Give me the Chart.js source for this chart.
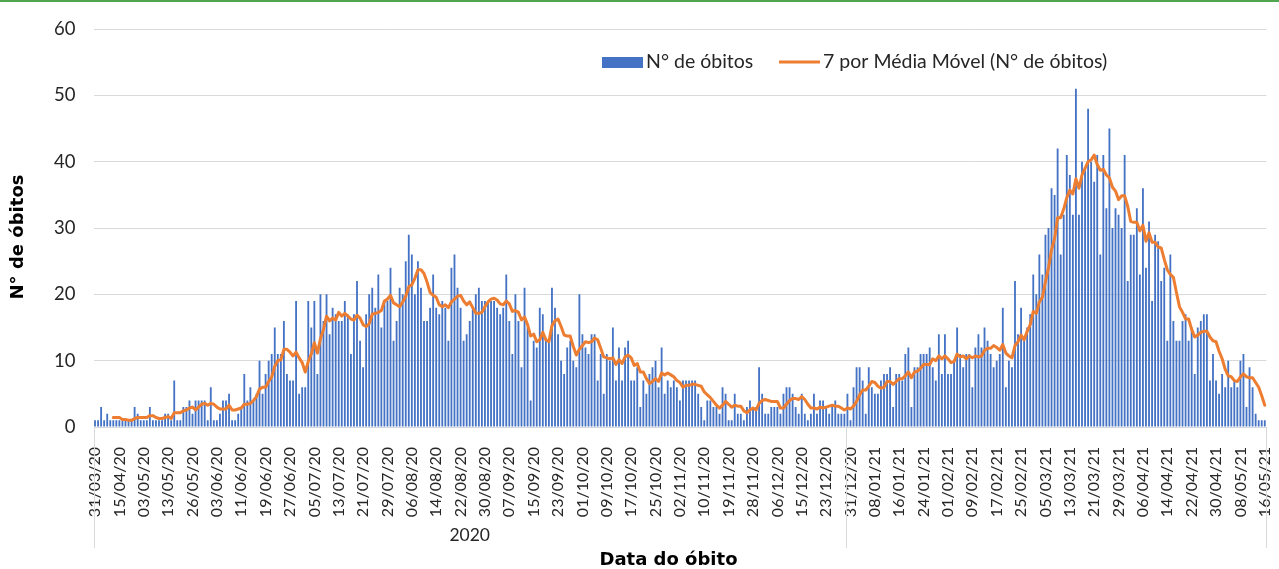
<!DOCTYPE html>
<html>
<head>
<meta charset="utf-8">
<script src="https://cdn.jsdelivr.net/npm/chart.js@4.4.1/dist/chart.umd.min.js"></script>
<style>
html,body{margin:0;padding:0;background:#fff;overflow:hidden}
#wrap{position:relative;width:1279px;height:569px;overflow:hidden}
#topline{position:absolute;left:0;top:0;width:100%;height:2px;background:#4fa64f;z-index:2}
canvas{display:block}
</style>
</head>
<body>
<div id="wrap"><div id="topline"></div><canvas id="chart" width="1296" height="569"></canvas></div>
<script>
// ---- data ----
const TICK_LABELS = ["31/03/20","15/04/20","03/05/20","13/05/20","26/05/20","03/06/20","11/06/20","19/06/20","27/06/20",
  "05/07/20","13/07/20","21/07/20","29/07/20","06/08/20","14/08/20","22/08/20","30/08/20","07/09/20","15/09/20",
  "23/09/20","01/10/20","09/10/20","17/10/20","25/10/20","02/11/20","10/11/20","19/11/20","28/11/20","06/12/20",
  "15/12/20","23/12/20","31/12/20","08/01/21","16/01/21","24/01/21","01/02/21","09/02/21","17/02/21","25/02/21",
  "05/03/21","13/03/21","21/03/21","29/03/21","06/04/21","14/04/21","22/04/21","30/04/21","08/05/21","16/05/21"];
const TICK_EVERY = 8;
const YEAR_LABELS = ["2020"];
const YEAR_SPLIT = 247;  // first category of the next group
const OBITOS = [
  1,1,3,1,2,1,1,1,1,1,1,1,1,3,2,1,1,1,3,1,1,1,1,2,2,1,7,
  1,1,3,3,4,2,4,4,4,4,1,6,1,1,2,4,4,5,1,1,2,3,8,4,6,4,5,10,5,8,10,11,15,11,11,16,
  8,7,7,19,5,6,6,19,15,19,8,20,16,20,14,18,17,16,16,19,17,11,17,22,13,9,17,20,21,18,
  23,15,19,19,24,13,16,21,20,25,29,26,20,25,21,16,16,18,23,18,
  17,19,18,13,24,26,21,18,13,14,16,18,20,21,19,19,19,19,19,18,17,18,23,16,11,20,16,9,21,15,
  4,13,12,18,17,13,13,21,18,14,10,8,12,13,10,9,20,14,12,
  11,14,14,7,11,5,11,10,15,7,12,7,12,13,7,7,9,3,7,5,8,9,10,6,12,5,7,6,7,6,4,7,7,7,7,7,5,3,1,4,4,3,
  3,2,6,5,1,1,5,2,2,1,3,4,3,3,9,5,2,2,3,3,3,2,5,6,6,5,3,2,5,2,1,2,5,2,4,4,3,2,3,4,2,2,2,5,1,
  6,9,9,7,2,9,6,5,5,7,8,8,9,3,8,8,7,11,12,3,9,9,11,11,11,12,9,7,14,8,14,8,8,10,15,11,9,11,11,6,
  12,14,12,15,13,11,9,10,11,
  18,6,10,9,22,14,18,13,15,17,23,20,26,23,29,30,36,35,42,26,32,41,38,32,51,32,40,39,48,40,
  37,41,26,41,33,45,30,33,32,30,41,22,
  29,29,33,23,36,24,31,19,29,28,22,24,13,26,16,13,13,16,17,13,15,8,15,16,17,17,7,11,7,5,
  8,6,10,6,7,6,10,11,3,9,6,2,1,1,1
];
const MA_PERIOD = 7;
const Y_MAX = 60, Y_STEP = 10;

const FONT = "Lato, 'Open Sans', sans-serif";
const TITLE_FONT = "'DejaVu Sans', sans-serif";
const BLUE = "#4472C4", ORANGE = "#ED7D31", GRID = "#d9d9d9", TXT = "#262626";

// Excel "7 por Média Móvel" trendline of the bar series
function movingAvg(arr,n){ return arr.map((_,i)=> i<n-1 ? null : arr.slice(i-n+1,i+1).reduce((a,b)=>a+b,0)/n); }

// stretch a text to a given width with letter spacing (titles are drawn in a wide face)
function fitText(ctx,text,x,y,target){
  ctx.letterSpacing = "0px";
  const w = ctx.measureText(text).width;
  const ls = Math.max(0,(target-w)/text.length);
  ctx.letterSpacing = ls+"px";
  ctx.fillText(text, x+ls/2, y);
  ctx.letterSpacing = "0px";
}

const labels = OBITOS.map((_,i)=> i%TICK_EVERY===0 ? (TICK_LABELS[i/TICK_EVERY]||"") : "");

const extras = {
  id:"extras",
  afterDraw(chart){
    const {ctx, chartArea:a, scales:{x}} = chart;
    const w = (a.right-a.left)/OBITOS.length;
    ctx.save();
    // group separators under the date axis
    ctx.strokeStyle = GRID; ctx.lineWidth = 1;
    const xs = [a.left, x.getPixelForValue(YEAR_SPLIT)-w/2, a.right];
    for(const px of xs){
      const p = Math.round(px)+0.5;
      ctx.beginPath(); ctx.moveTo(p,a.bottom); ctx.lineTo(p,548); ctx.stroke();
    }
    ctx.fillStyle = TXT; ctx.textAlign = "center"; ctx.textBaseline = "middle";
    ctx.font = `17.5px ${FONT}`;
    ctx.fillText(YEAR_LABELS[0], (xs[0]+xs[1])/2, 535);
    // axis titles
    ctx.fillStyle = "#000";
    ctx.font = `bold 18px ${TITLE_FONT}`;
    fitText(ctx, "Data do óbito", 668.5, 560, 134);
    ctx.save(); ctx.translate(18,237); ctx.rotate(-Math.PI/2);
    fitText(ctx, "N° de óbitos", 0, 0, 125); ctx.restore();
    // legend
    ctx.font = `19.5px ${FONT}`; ctx.textAlign = "left";
    ctx.fillStyle = BLUE; ctx.fillRect(602,57,41,11);
    ctx.fillStyle = TXT; ctx.fillText(chart.data.datasets[0].label, 646, 62);
    ctx.strokeStyle = ORANGE; ctx.lineWidth = 3;
    ctx.beginPath(); ctx.moveTo(779,62); ctx.lineTo(820,62); ctx.stroke();
    ctx.fillText(chart.data.datasets[1].label, 823, 62);
    ctx.restore();
  }
};

new Chart(document.getElementById("chart"), {
  type:"bar",
  data:{
    labels,
    datasets:[
      {type:"bar", label:"N° de óbitos", data:OBITOS, backgroundColor:BLUE,
       barPercentage:0.6, categoryPercentage:1, order:2},
      {type:"line", label:"7 por Média Móvel (N° de óbitos)", data:movingAvg(OBITOS,MA_PERIOD),
       borderColor:ORANGE, borderWidth:3, pointRadius:0, tension:0,
       borderJoinStyle:"round", borderCapStyle:"round", order:1}
    ]
  },
  options:{
    responsive:false, animation:false, devicePixelRatio:1,
    layout:{padding:{top:26, right:19.5, left:0, bottom:0}},
    plugins:{legend:{display:false}, tooltip:{enabled:false}},
    scales:{
      x:{
        offset:true,
        grid:{display:false}, border:{display:false},
        ticks:{autoSkip:false, minRotation:90, maxRotation:90, padding:12, color:TXT,
               font:{family:FONT, size:16}},
        afterFit(s){ s.height = 142; }
      },
      y:{
        min:0, max:Y_MAX,
        grid:{color:GRID, drawTicks:false}, border:{display:false},
        ticks:{stepSize:Y_STEP, padding:18, color:TXT, font:{family:FONT, size:18.5}},
        afterFit(s){ s.width = 93.5; }
      }
    }
  },
  plugins:[extras]
});
</script>
</body>
</html>
